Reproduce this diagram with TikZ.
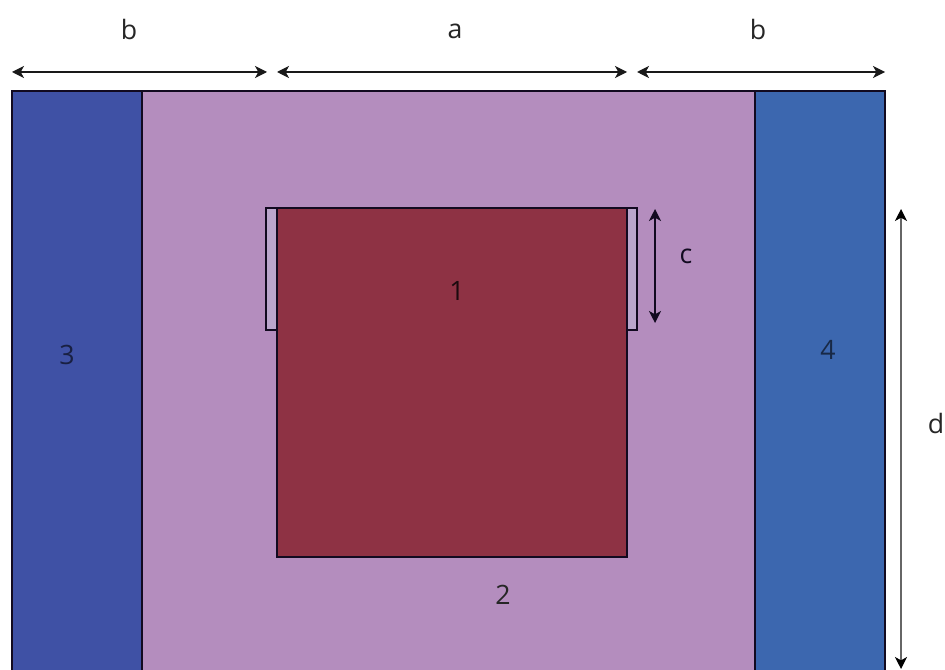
\documentclass[tikz,border=0pt]{standalone}
\usepackage{fontspec}
\setmainfont{Open Sans}
\usetikzlibrary{arrows.meta}
\definecolor{midpurple}{HTML}{B48DBE}
\definecolor{leftblue}{HTML}{3F51A5}
\definecolor{rightblue}{HTML}{3C67AF}
\definecolor{core}{HTML}{8E3244}
\definecolor{inkdark}{HTML}{120A20}
\definecolor{tabfill}{HTML}{BBA6CC}
\tikzset{
  panel/.style={draw=inkdark,line width=1.35pt},
  dim/.style={draw=black!90,line width=1pt,{Stealth[length=9pt,width=9pt,inset=2.5pt]}-{Stealth[length=9pt,width=9pt,inset=2.5pt]}},
  lab/.style={font=\fontsize{20}{24}\selectfont,text=black!85,inner sep=0pt},
  num/.style={font=\fontsize{20}{24}\selectfont,inner sep=0pt}
}
\begin{document}
\begin{tikzpicture}[x=0.75pt,y=-0.75pt]
\useasboundingbox (0,0) rectangle (945,670);
\fill[white] (0,0) rectangle (945,670);
% panels
\path[panel,fill=midpurple] (142,91) rectangle (755,680);
\path[panel,fill=leftblue] (12,91) rectangle (142,680);
\path[panel,fill=rightblue] (755,91) rectangle (885,680);
% tabs and core
\path[panel,fill=tabfill] (266,208) rectangle (277,330);
\path[panel,fill=tabfill] (627,208) rectangle (637,330);
\path[panel,fill=core] (277,208) rectangle (627,557);
% dimension end points
\coordinate (b1l) at (12,72);
\coordinate (b1r) at (267,72);
\coordinate (al) at (277,72);
\coordinate (ar) at (627,72);
\coordinate (b2l) at (637,72);
\coordinate (b2r) at (885,72);
\coordinate (ct) at (655,209);
\coordinate (cb) at (655,323);
\coordinate (dt) at (901,209);
\coordinate (db) at (901,669);
\draw[dim] (b1l) -- (b1r);
\draw[dim] (al) -- (ar);
\draw[dim] (b2l) -- (b2r);
\draw[dim,draw=inkdark] (ct) -- (cb);
\draw[dim,draw=black!60,{Stealth[length=9pt,width=9pt,inset=2.5pt,black]}-{Stealth[length=9pt,width=9pt,inset=2.5pt,black]}] (dt) -- (db);
% labels
\node[lab] (lb1) at (129,30) {b};
\node[lab] (la) at (455,31) {a};
\node[lab] (lb2) at (758,30) {b};
\node[lab,text=inkdark] (lc) at (686,256) {c};
\node[lab] (ld) at (936,423) {d};
\node[num,text=black!80!core] (n1) at (457,291) {1};
\node[num,text=black!85] (n2) at (503,595) {2};
\node[num,text=black!60!leftblue] (n3) at (67,355) {3};
\node[num,text=black!60!rightblue] (n4) at (828,350) {4};
\end{tikzpicture}
\end{document}
